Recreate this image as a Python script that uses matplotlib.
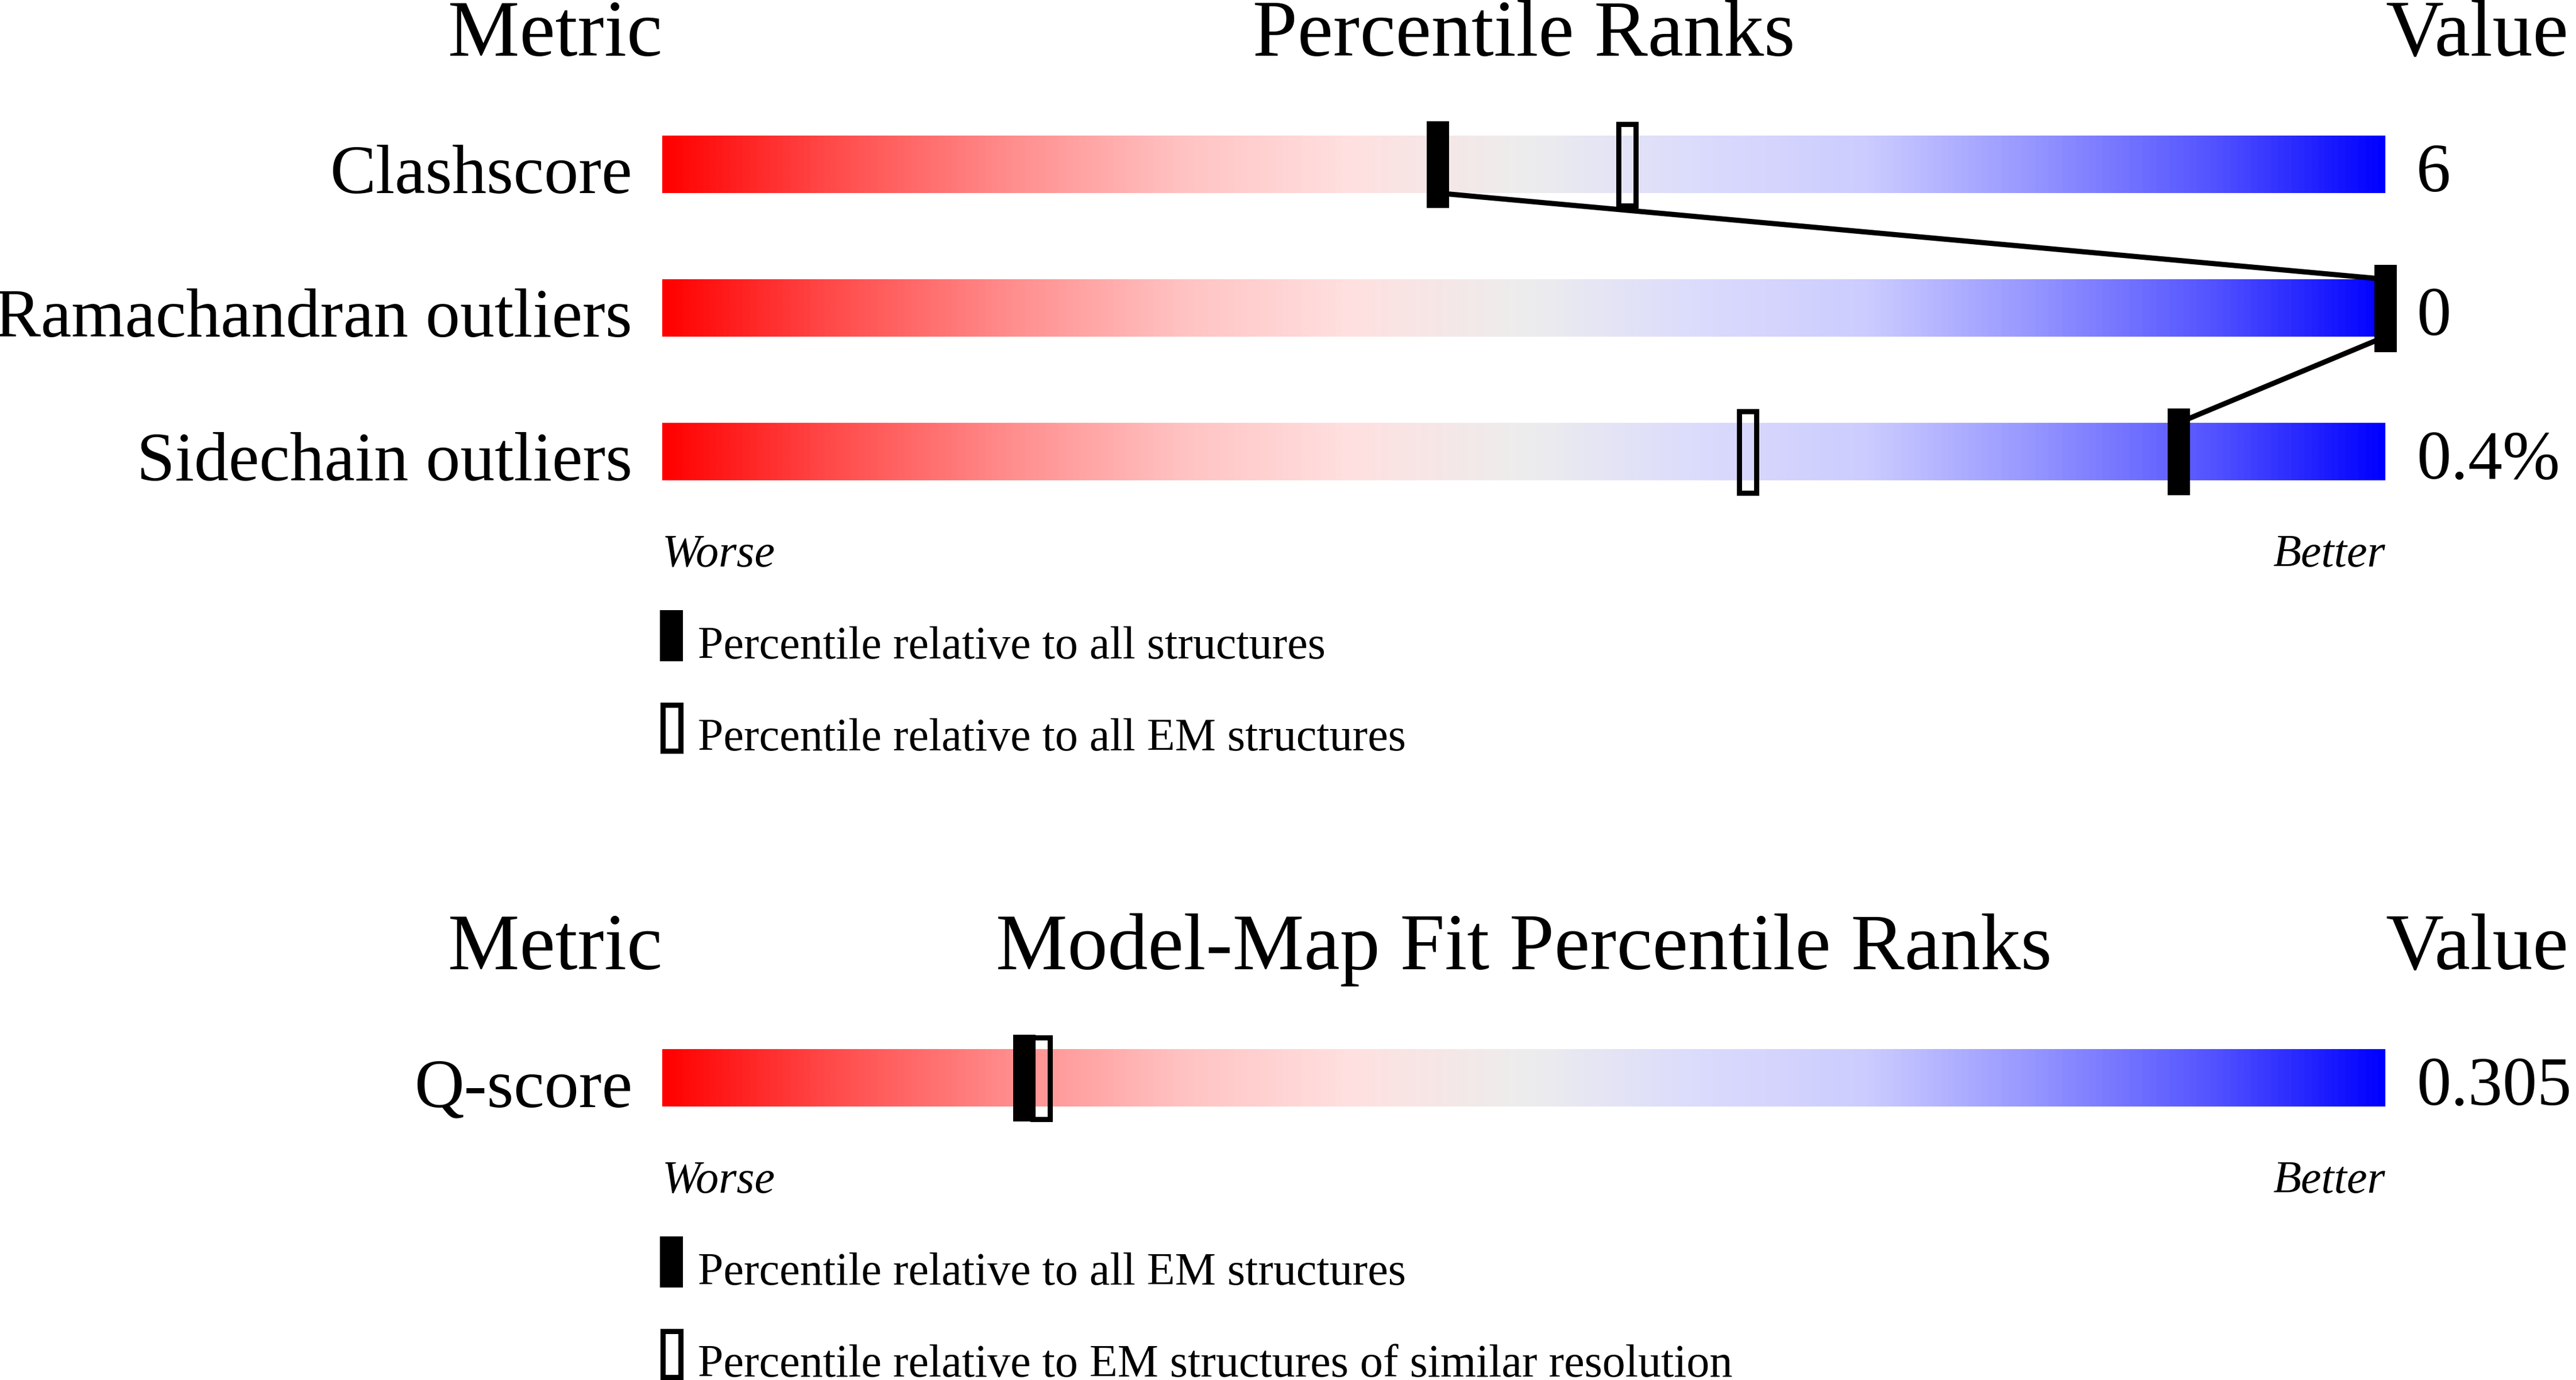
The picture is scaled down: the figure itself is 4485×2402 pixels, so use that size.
import matplotlib; matplotlib.use("Agg")
import matplotlib.pyplot as plt
import numpy as np
from matplotlib.colors import LinearSegmentedColormap
from matplotlib.patches import Rectangle

geom_metrics = ["Clashscore", "Ramachandran outliers", "Sidechain outliers"]
geom_pct_all = [45, 100, 88]      # relative to all structures
geom_pct_em = [56, 100, 63]       # relative to all EM structures
geom_values = ["6", "0", "0.4%"]

fit_metrics = ["Q-score"]
fit_pct_all = [21]                # relative to all EM structures
fit_pct_res = [22]                # relative to EM structures of similar resolution
fit_values = ["0.305"]

# ---- layout (pixels) ----
W, H = 4485, 2402
BX0, BW = 1153, 3000              # bar left edge / width in px
PX = 100 / BW                     # percent units per pixel
BAR_H, MK_H, MK_W = 100, 151, 39
FONT = "Liberation Serif"
INK = "black"

grad = LinearSegmentedColormap.from_list("slider", [
    (0.00, (1.00, 0.00, 0.00)), (0.10, (1.00, 0.30, 0.30)),
    (0.20, (1.00, 0.55, 0.55)), (0.30, (1.00, 0.76, 0.76)),
    (0.40, (1.00, 0.88, 0.88)), (0.50, (0.93, 0.93, 0.93)),
    (0.60, (0.86, 0.86, 0.99)), (0.70, (0.80, 0.80, 1.00)),
    (0.80, (0.58, 0.58, 1.00)), (0.90, (0.33, 0.33, 1.00)),
    (1.00, (0.00, 0.00, 1.00))])

fig = plt.figure(figsize=(W / 100, H / 100), dpi=100)
ax = fig.add_axes([BX0 / W, 0, BW / W, 1])
ax.set_xlim(0, 100); ax.set_ylim(H, 0); ax.axis("off")
ramp = np.linspace(0, 1, 1024)[None, :]


def panel(title, metrics, p_all, p_em, values, top, legend_labels):
    hy = top                      # header baseline
    kw = dict(family=FONT, color=INK, va="baseline")
    ax.text(0, hy, "Metric", ha="right", fontsize=100.8, **kw)
    ax.text(50, hy, title, ha="center", fontsize=100.8, **kw)
    ax.text(100, hy, "Value", ha="left", fontsize=100.8, **kw)
    rows = [hy + 139 + 250 * i for i in range(len(metrics))]   # bar tops
    for i, (m, v) in enumerate(zip(metrics, values)):
        y0 = rows[i]
        ax.imshow(ramp, cmap=grad, aspect="auto", extent=[0, 100, y0 + BAR_H, y0],
                  interpolation="bilinear", zorder=1)
        ax.text(-52 * PX, y0 + BAR_H, m, ha="right", fontsize=86.4, **kw)
        ax.text(100 + 54 * PX, y0 + BAR_H - 3, v, ha="left", fontsize=86.4, **kw)
        # outlined marker (second reference set)
        ax.add_patch(Rectangle((p_em[i] - (MK_W - 9) * PX / 2, y0 - 25 + 4.5),
                               (MK_W - 9) * PX, MK_H - 9, fill=False,
                               ec=INK, lw=9 * 0.72, zorder=3, clip_on=False))
        # filled marker
        ax.add_patch(Rectangle((p_all[i] - MK_W * PX / 2, y0 - 25), MK_W * PX, MK_H,
                               fc=INK, ec="none", zorder=4, clip_on=False))
    for i in range(len(metrics) - 1):
        ax.plot([p_all[i], p_all[i + 1]], [rows[i] + BAR_H, rows[i + 1]],
                color=INK, lw=6.5, zorder=2, solid_capstyle="butt", clip_on=False)
    base = rows[-1] + BAR_H
    ax.text(0, base + 150, "Worse", ha="left", fontsize=57.6, style="italic", **kw)
    ax.text(100, base + 150, "Better", ha="right", fontsize=57.6, style="italic", **kw)
    for j, lab in enumerate(legend_labels):
        ly = base + 226 + 160 * j
        cx = 16 * PX
        if j == 0:
            ax.add_patch(Rectangle((cx - 40 * PX / 2, ly), 40 * PX, 89,
                                   fc=INK, ec="none", clip_on=False))
        else:
            ax.add_patch(Rectangle((cx - 31 * PX / 2, ly + 4.5), 31 * PX, 80,
                                   fill=False, ec=INK, lw=9 * 0.72, clip_on=False))
        ax.text(62 * PX, ly + 84, lab, ha="left", fontsize=57.6, **kw)


panel("Percentile Ranks", geom_metrics, geom_pct_all, geom_pct_em, geom_values, 97,
      ["Percentile relative to all structures",
       "Percentile relative to all EM structures"])
panel("Model-Map Fit Percentile Ranks", fit_metrics, fit_pct_all, fit_pct_res, fit_values,
      1687, ["Percentile relative to all EM structures",
             "Percentile relative to EM structures of similar resolution"])

fig.savefig("out.png", dpi=100, facecolor="white")
